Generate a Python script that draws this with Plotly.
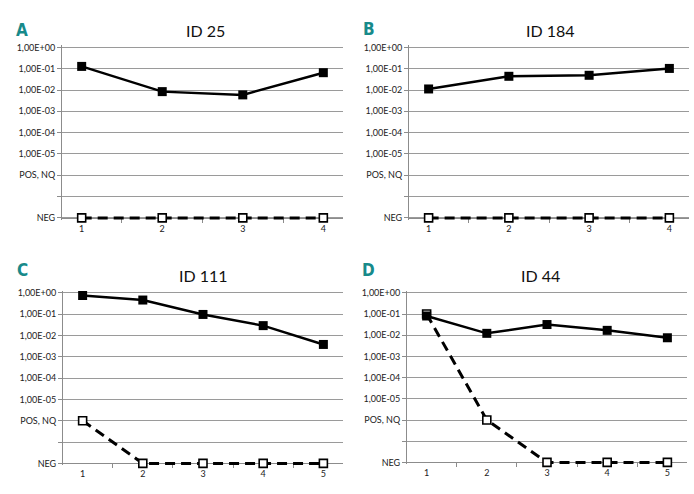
import plotly.graph_objects as go

W, H = 694, 494

# y-level encoding: numeric values on log scale; POS NQ and NEG placed below 1e-5
POS_NQ = 1e-6
NEG = 1e-8
LEVELS = {"POS": POS_NQ, "NEG": NEG}

ytick_vals = [1, 1e-1, 1e-2, 1e-3, 1e-4, 1e-5, 1e-6, 1e-7, 1e-8]
ytick_text = ["1,00E+00", "1,00E-01", "1,00E-02", "1,00E-03", "1,00E-04",
              "1,00E-05", "POS, NQ", "", "NEG"]

panel_letters = ["A", "B", "C", "D"]
panel_titles = ["ID 25", "ID 184", "ID 111", "ID 44"]

cats_a = ["1", "2", "3", "4"]
solid_a = [0.128, 0.0084, 0.0059, 0.065]
dashed_a = ["NEG", "NEG", "NEG", "NEG"]

cats_b = ["1", "2", "3", "4"]
solid_b = [0.0112, 0.044, 0.049, 0.103]
dashed_b = ["NEG", "NEG", "NEG", "NEG"]

cats_c = ["1", "2", "3", "4", "5"]
solid_c = [0.75, 0.46, 0.097, 0.029, 0.0038]
dashed_c = ["POS", "NEG", "NEG", "NEG", "NEG"]

cats_d = ["1", "2", "3", "4", "5"]
solid_d = [0.081, 0.0123, 0.032, 0.017, 0.0076]
dashed_d = [0.1, "POS", "NEG", "NEG", "NEG"]

panels = [
    (cats_a, solid_a, dashed_a),
    (cats_b, solid_b, dashed_b),
    (cats_c, solid_c, dashed_c),
    (cats_d, solid_d, dashed_d),
]

# pixel boxes of plot areas: (left, right, top, bottom)
boxes = [(62, 343, 44, 217), (409, 689, 44, 217), (63, 343, 293, 466), (407, 687, 293, 465)]
title_pos = [(205, 27), (550, 27), (203, 275), (540, 275)]
letter_pos = [(22, 26), (369, 25), (22, 270), (368, 270)]
PAD = 2  # px of extra room so the thick lines on the NEG level are not clipped

def to_val(v):
    return LEVELS[v] if isinstance(v, str) else v

fig = go.Figure()
annotations = []
layout_axes = {}
for i, ((cats, solid, dashed), box) in enumerate(zip(panels, boxes)):
    n = i + 1
    xa = "x" if n == 1 else f"x{n}"
    ya = "y" if n == 1 else f"y{n}"
    l, r, t, b = box
    ppd = (b - t) / 8.0
    ext = PAD / ppd

    fig.add_trace(go.Scatter(
        x=cats, y=[to_val(v) for v in dashed], xaxis=xa, yaxis=ya,
        mode="lines+markers", cliponaxis=False, showlegend=False,
        line=dict(color="black", width=3, dash="10px,6px"),
        marker=dict(symbol="square", size=8, color="white",
                    line=dict(color="black", width=1.6)),
    ))
    fig.add_trace(go.Scatter(
        x=cats, y=solid, xaxis=xa, yaxis=ya,
        mode="lines+markers", cliponaxis=False, showlegend=False,
        line=dict(color="black", width=2.5),
        marker=dict(symbol="square", size=9, color="black"),
    ))
    xkey = "xaxis" if n == 1 else f"xaxis{n}"
    ykey = "yaxis" if n == 1 else f"yaxis{n}"
    layout_axes[xkey] = dict(domain=[l / W, r / W], anchor="free", position=1 - b / H,
                             type="category",
                             showgrid=False, showline=True, linecolor="#8c8c8c", linewidth=1,
                             ticks="outside", tickson="boundaries", ticklen=4, tickcolor="#8c8c8c",
                             ticklabelstandoff=2, layer="below traces",
                             tickfont=dict(family="Lato, sans-serif", size=9, color="#222"),
                             zeroline=False, fixedrange=True)
    layout_axes[ykey] = dict(domain=[1 - (b + PAD) / H, 1 - (t - PAD) / H], anchor=xa,
                             type="log", range=[-8 - ext, 0 + ext],
                             tickvals=ytick_vals, ticktext=ytick_text,
                             showgrid=True, gridcolor="#9a9a9a", gridwidth=1,
                             showline=True, linecolor="#8c8c8c", linewidth=1,
                             ticks="outside", ticklen=4, tickcolor="#8c8c8c",
                             layer="below traces",
                             tickfont=dict(family="Lato, sans-serif", size=9, color="#222"),
                             zeroline=False, fixedrange=True)
    tx, ty = title_pos[i]
    annotations.append(dict(text=panel_titles[i], x=tx / W, y=1 - ty / H,
                            xref="paper", yref="paper", showarrow=False,
                            xanchor="center", yanchor="middle",
                            font=dict(family="Lato, sans-serif", size=16, color="#111")))
    lx, ly = letter_pos[i]
    annotations.append(dict(text="<b>" + panel_letters[i] + "</b>", x=lx / W, y=1 - ly / H,
                            xref="paper", yref="paper", showarrow=False,
                            xanchor="center", yanchor="middle",
                            font=dict(family="Liberation Sans Narrow, DejaVu Sans Condensed, sans-serif",
                                      size=17, color="#178a8a")))

fig.update_layout(**layout_axes)
fig.update_layout(width=W, height=H, margin=dict(l=0, r=0, t=0, b=0),
                  paper_bgcolor="white", plot_bgcolor="white",
                  annotations=annotations)

fig.write_html("out.html", config={"displayModeBar": False},
               post_script="document.body.style.margin='0';document.body.style.overflow='hidden';")
